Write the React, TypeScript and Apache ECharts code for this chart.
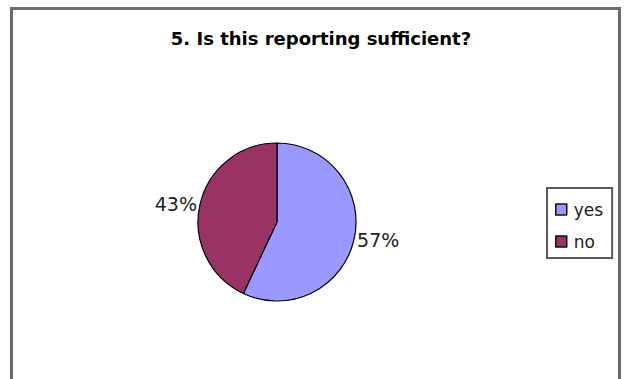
import React, { useEffect, useRef } from "react";
import * as echarts from "echarts";

const titleText = "5. Is this reporting sufficient?";
const categories = ["yes", "no"];
const values = [57, 43];
const colors = ["#9999FF", "#993366"];

const FONT = "DejaVu Sans, Arial, sans-serif";

export default function App() {
  const ref = useRef<HTMLDivElement>(null);
  useEffect(() => {
    if (!ref.current) return;
    const chart = echarts.init(ref.current, null, { renderer: "svg" });
    chart.setOption({
      animation: false,
      backgroundColor: "#ffffff",
      title: {
        text: titleText,
        left: 316,
        textAlign: "center",
        top: 24,
        textStyle: {
          fontFamily: FONT,
          fontWeight: "bold",
          fontSize: 18,
          color: "#000",
        },
      },
      graphic: [
        {
          type: "rect",
          shape: { x: 11.5, y: 8.5, width: 608, height: 420 },
          style: { fill: "none", stroke: "#6a6a6a", lineWidth: 3 },
          silent: true,
        },
      ],
      legend: {
        orient: "vertical",
        left: 547,
        top: 188,
        padding: [13, 9, 8, 8],
        borderColor: "#5a5a5a",
        borderWidth: 2,
        itemGap: 15,
        itemWidth: 11,
        itemHeight: 11,
        icon: "rect",
        textStyle: {
          fontFamily: FONT,
          fontSize: 17,
          lineHeight: 17,
          color: "#222",
          padding: [0, 0, 0, 2],
        },
        itemStyle: { borderColor: "#111", borderWidth: 1.5 },
        data: categories,
      },
      series: [
        {
          type: "pie",
          center: [277, 222],
          radius: 79,
          startAngle: 90,
          clockwise: true,
          data: categories.map((c, i) => ({
            name: c,
            value: values[i],
            itemStyle: { color: colors[i] },
          })),
          itemStyle: { borderColor: "#000", borderWidth: 1.2 },
          label: {
            show: true,
            position: "outside",
            formatter: "{d}%",
            fontFamily: FONT,
            fontSize: 19,
            color: "#222",
            distanceToLabelLine: 1,
          },
          labelLine: { show: false, length: 2, length2: 0 },
        },
      ],
    });
    return () => chart.dispose();
  }, []);
  return (
    <div
      ref={ref}
      style={{ position: "fixed", left: 0, top: 0, width: 627, height: 379 }}
    />
  );
}
